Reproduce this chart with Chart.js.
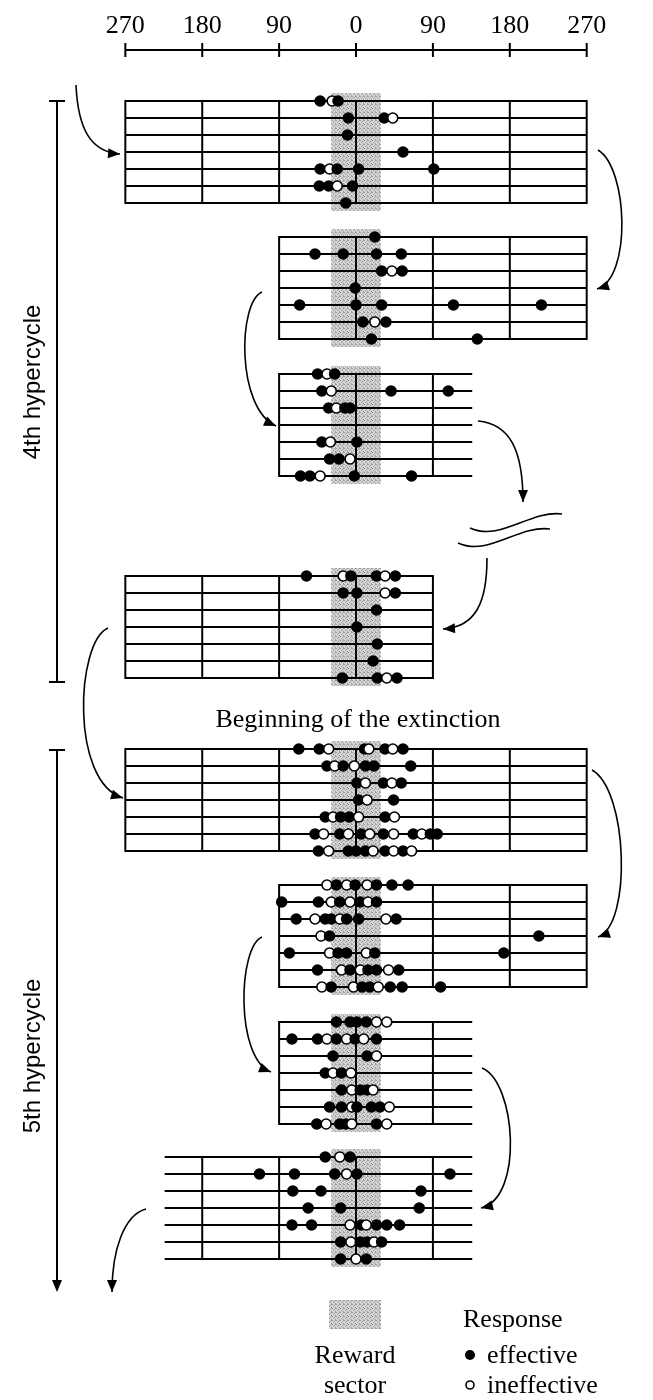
<!DOCTYPE html>
<html>
<head>
<meta charset="utf-8">
<script src="https://cdn.jsdelivr.net/npm/chart.js@4.4.1/dist/chart.umd.min.js"></script>
<style>
    html, body { margin: 0; padding: 0; background: #fff; }
    canvas { display: block; }
</style>
</head>
<body>
<canvas id="hypercycle-chart" width="653" height="1400"></canvas>
<script>
// angle ticks of the top scale (degrees from the reward position)
const tickDegrees = [-270, -180, -90, 0, 90, 180, 270];
const tickLabels = ["270", "180", "90", "0", "90", "180", "270"];
const rewardSector = [-29, 29];

// one array per block of trials; each row is a trial, each entry [degrees, effective ? 1 : 0]
const block1 = [
    [[-42, 1], [-28, 0], [-21, 1]],
    [[-9, 1], [33, 1], [43, 0]],
    [[-10, 1]],
    [[55, 1]],
    [[-42, 1], [-31, 0], [-22, 1], [3, 1], [91, 1]],
    [[-43, 1], [-32, 1], [-22, 0], [-4, 1]],
    [[-12, 1]],
];
const block2 = [
    [[22, 1]],
    [[-48, 1], [-15, 1], [24, 1], [53, 1]],
    [[30, 1], [42, 0], [54, 1]],
    [[-1, 1]],
    [[-66, 1], [0, 1], [30, 1], [114, 1], [217, 1]],
    [[8, 1], [22, 0], [35, 1]],
    [[18, 1], [142, 1]],
];
const block3 = [
    [[-45, 1], [-34, 0], [-25, 1]],
    [[-40, 1], [-29, 0], [41, 1], [108, 1]],
    [[-32, 1], [-23, 0], [-13, 1], [-7, 1]],
    [],
    [[-40, 1], [-30, 0], [1, 1]],
    [[-31, 1], [-20, 1], [-7, 0]],
    [[-65, 1], [-54, 1], [-42, 0], [-2, 1], [65, 1]],
];
const block4 = [
    [[-58, 1], [-15, 0], [-6, 1], [24, 1], [34, 0], [46, 1]],
    [[-15, 1], [1, 1], [34, 0], [46, 1]],
    [[24, 1]],
    [[1, 1]],
    [[25, 1]],
    [[20, 1]],
    [[-16, 1], [25, 1], [36, 0], [48, 1]],
];
const block5 = [
    [[-67, 1], [-43, 1], [-32, 0], [10, 1], [15, 0], [34, 1], [43, 0], [55, 1]],
    [[-34, 1], [-25, 0], [-15, 1], [-2, 0], [11, 1], [21, 1], [64, 1]],
    [[1, 1], [11, 0], [32, 1], [42, 0], [53, 1]],
    [[3, 1], [13, 0], [44, 1]],
    [[-36, 1], [-27, 0], [-18, 1], [-8, 1], [3, 0], [34, 1], [45, 0]],
    [[-48, 1], [-38, 0], [-19, 1], [-9, 0], [6, 1], [16, 0], [32, 1], [44, 0], [67, 1], [77, 0], [87, 1], [95, 1]],
    [[-44, 1], [-32, 0], [-9, 1], [0, 1], [11, 1], [20, 0], [34, 1], [44, 0], [55, 1], [65, 0]],
];
const block6 = [
    [[-34, 0], [-23, 1], [-11, 0], [-1, 1], [13, 0], [24, 1], [42, 1], [61, 1]],
    [[-87, 1], [-44, 1], [-29, 0], [-19, 1], [-7, 0], [5, 1], [14, 0], [24, 1]],
    [[-70, 1], [-48, 0], [-36, 1], [-29, 1], [-19, 0], [-11, 1], [3, 1], [35, 0], [47, 1]],
    [[-41, 0], [-31, 1], [214, 1]],
    [[-78, 1], [-31, 0], [-21, 1], [-11, 1], [12, 0], [22, 1], [173, 1]],
    [[-45, 1], [-17, 0], [-7, 1], [5, 0], [14, 1], [24, 1], [38, 0], [50, 1]],
    [[-40, 0], [-29, 1], [-3, 0], [7, 1], [16, 1], [26, 0], [40, 1], [54, 1], [99, 1]],
];
const block7 = [
    [[-23, 1], [-7, 1], [1, 1], [12, 1], [24, 0], [36, 0]],
    [[-75, 1], [-45, 1], [-34, 0], [-23, 1], [-11, 0], [-1, 1], [9, 0], [24, 1]],
    [[-27, 1], [13, 1], [24, 0]],
    [[-36, 1], [-27, 0], [-17, 1], [-6, 0]],
    [[-17, 1], [-5, 0], [5, 1], [13, 1], [20, 0]],
    [[-31, 1], [-17, 1], [-5, 0], [1, 1], [18, 1], [28, 1], [39, 0]],
    [[-46, 1], [-35, 0], [-19, 1], [-12, 1], [-5, 0], [24, 1], [36, 0]],
];
const block8 = [
    [[-36, 1], [-19, 0], [-7, 1]],
    [[-113, 1], [-72, 1], [-25, 1], [-11, 0], [1, 1], [110, 1]],
    [[-74, 1], [-41, 1], [76, 1]],
    [[-56, 1], [-18, 1], [74, 1]],
    [[-75, 1], [-52, 1], [-7, 0], [6, 1], [12, 0], [24, 1], [36, 1], [51, 1]],
    [[-18, 1], [-6, 0], [5, 1], [13, 1], [21, 0], [30, 1]],
    [[-18, 1], [0, 0], [12, 1]],
];
const blocks = [block1, block2, block3, block4, block5, block6, block7, block8];

// page layout of the blocks (y in canvas units, extents in degrees)
const layout = {
    rowGap: 17,
    top: [101, 237, 374, 576, 749, 885, 1022, 1157],
    from: [-270, -90, -90, -270, -270, -90, -90, -224],
    to: [270, 270, 136, 90, 270, 270, 136, 136],
    leftEdge: [true, true, true, true, true, true, true, false],
    rightEdge: [true, true, false, true, true, true, false, false],
};

const SERIF = "'Liberation Serif', 'Times New Roman', serif";
const SANS = "'Liberation Sans', Arial, sans-serif";

function sectorPattern(ctx) {
    const c = document.createElement("canvas");
    c.width = 4;
    c.height = 4;
    const g = c.getContext("2d");
    g.fillStyle = "#d6d6d6";
    g.fillRect(0, 0, 4, 4);
    g.fillStyle = "#9a9a9a";
    [[0, 0], [2, 1], [1, 2], [3, 3], [3, 0]].forEach(([px, py]) => g.fillRect(px, py, 1, 1));
    return ctx.createPattern(c, "repeat");
}

function arrowHead(ctx, tx, ty, fx, fy) {
    const a = Math.atan2(ty - fy, tx - fx);
    const len = 12;
    const w = 5;
    ctx.beginPath();
    ctx.moveTo(tx, ty);
    ctx.lineTo(tx - len * Math.cos(a) + w * Math.sin(a), ty - len * Math.sin(a) - w * Math.cos(a));
    ctx.lineTo(tx - len * Math.cos(a) - w * Math.sin(a), ty - len * Math.sin(a) + w * Math.cos(a));
    ctx.closePath();
    ctx.fill();
}

function curvedArrow(ctx, p, head = true) {
    ctx.beginPath();
    ctx.moveTo(p[0], p[1]);
    ctx.bezierCurveTo(p[2], p[3], p[4], p[5], p[6], p[7]);
    ctx.stroke();
    if (head) arrowHead(ctx, p[6], p[7], p[4], p[5]);
}

const figurePlugin = {
    id: "figure",
    beforeDatasetsDraw(chart) {
        const ctx = chart.ctx;
        const X = (d) => chart.scales.x.getPixelForValue(d);
        const Y = (v) => chart.scales.y.getPixelForValue(v);
        const pattern = sectorPattern(ctx);
        ctx.save();

        // top angle scale
        ctx.strokeStyle = "#000";
        ctx.fillStyle = "#000";
        ctx.lineWidth = 2;
        ctx.beginPath();
        ctx.moveTo(X(tickDegrees[0]), Y(50));
        ctx.lineTo(X(tickDegrees[tickDegrees.length - 1]), Y(50));
        tickDegrees.forEach((d) => {
            ctx.moveTo(X(d), Y(43));
            ctx.lineTo(X(d), Y(57));
        });
        ctx.stroke();
        ctx.font = `26px ${SERIF}`;
        ctx.textAlign = "center";
        ctx.textBaseline = "alphabetic";
        tickDegrees.forEach((d, i) => ctx.fillText(tickLabels[i], X(d), Y(33)));

        // reward sector bands
        ctx.fillStyle = pattern;
        layout.top.forEach((top) => {
            const y0 = Y(top - 8);
            const y1 = Y(top + 6 * layout.rowGap + 8);
            ctx.fillRect(X(rewardSector[0]), y0, X(rewardSector[1]) - X(rewardSector[0]), y1 - y0);
        });

        // block grids
        ctx.strokeStyle = "#000";
        ctx.lineWidth = 2;
        layout.top.forEach((top, b) => {
            const from = layout.from[b];
            const to = layout.to[b];
            const bottom = top + 6 * layout.rowGap;
            ctx.beginPath();
            for (let r = 0; r < 7; r++) {
                ctx.moveTo(X(from), Y(top + r * layout.rowGap));
                ctx.lineTo(X(to), Y(top + r * layout.rowGap));
            }
            const verticals = [-180, -90, 0, 90, 180].filter((d) => d > from && d < to);
            if (layout.leftEdge[b]) verticals.push(from);
            if (layout.rightEdge[b]) verticals.push(to);
            verticals.forEach((d) => {
                ctx.moveTo(X(d), Y(top) - 1);
                ctx.lineTo(X(d), Y(bottom) + 1);
            });
            ctx.stroke();
        });

        // hypercycle brackets
        ctx.lineWidth = 2;
        ctx.beginPath();
        ctx.moveTo(57, 101); ctx.lineTo(57, 682);
        ctx.moveTo(49, 101); ctx.lineTo(65, 101);
        ctx.moveTo(49, 682); ctx.lineTo(65, 682);
        ctx.moveTo(57, 750); ctx.lineTo(57, 1282);
        ctx.moveTo(49, 750); ctx.lineTo(65, 750);
        ctx.stroke();
        ctx.fillStyle = "#000";
        arrowHead(ctx, 57, 1292, 57, 1270);

        ctx.font = `24px ${SANS}`;
        ctx.textAlign = "center";
        ctx.textBaseline = "middle";
        [["4th hypercycle", 382], ["5th hypercycle", 1056]].forEach(([t, cy]) => {
            ctx.save();
            ctx.translate(33, cy);
            ctx.rotate(-Math.PI / 2);
            ctx.fillText(t, 0, 0);
            ctx.restore();
        });

        // connecting arrows
        ctx.lineWidth = 1.6;
        [
            [76, 85, 78, 128, 90, 152, 120, 154],
            [598, 150, 628, 168, 632, 278, 597, 289],
            [262, 292, 238, 302, 236, 408, 276, 426],
            [478, 421, 510, 424, 523, 450, 523, 502],
            [487, 558, 487, 602, 476, 627, 443, 629],
            [108, 628, 76, 642, 70, 782, 123, 798],
            [592, 770, 628, 790, 632, 925, 598, 937],
            [262, 937, 238, 947, 235, 1058, 271, 1072],
            [482, 1068, 516, 1082, 524, 1198, 481, 1208],
            [146, 1209, 124, 1215, 112, 1250, 112, 1292],
        ].forEach((p) => curvedArrow(ctx, p));

        // break marks
        [
            [470, 528, 500, 542, 530, 510, 562, 514],
            [458, 543, 488, 557, 518, 525, 550, 529],
        ].forEach((p) => curvedArrow(ctx, p, false));

        ctx.font = `26px ${SERIF}`;
        ctx.textAlign = "center";
        ctx.textBaseline = "alphabetic";
        ctx.fillText("Beginning of the extinction", 358, 727);

        // legend
        ctx.fillStyle = pattern;
        ctx.fillRect(329, 1300, 52, 29);
        ctx.fillStyle = "#000";
        ctx.fillText("Reward", 355, 1363);
        ctx.fillText("sector", 355, 1393);
        ctx.textAlign = "left";
        ctx.fillText("Response", 463, 1327);
        ctx.fillText("effective", 487, 1363);
        ctx.fillText("ineffective", 487, 1393);
        ctx.beginPath();
        ctx.arc(470, 1355, 5, 0, Math.PI * 2);
        ctx.fill();
        ctx.beginPath();
        ctx.lineWidth = 1.6;
        ctx.arc(470, 1385, 4, 0, Math.PI * 2);
        ctx.stroke();

        ctx.restore();
    },
};

const datasets = blocks.map((rows, b) => {
    const data = [];
    const fills = [];
    rows.forEach((trial, r) => {
        trial.forEach(([deg, effective]) => {
            data.push({ x: deg, y: layout.top[b] + r * layout.rowGap });
            fills.push(effective ? "#000" : "#fff");
        });
    });
    return {
        data,
        pointBackgroundColor: fills,
        pointBorderColor: "#000",
        pointBorderWidth: 1.6,
        pointRadius: 5,
        pointHoverRadius: 5,
        showLine: false,
    };
});

new Chart(document.getElementById("hypercycle-chart"), {
    type: "scatter",
    data: { datasets },
    options: {
        responsive: false,
        animation: false,
        devicePixelRatio: 1,
        events: [],
        layout: { padding: 0, autoPadding: false },
        plugins: {
            legend: { display: false },
            tooltip: { enabled: false },
        },
        scales: {
            x: { type: "linear", min: -416.7, max: 347.6, display: false },
            y: { type: "linear", min: 0, max: 1400, reverse: true, display: false },
        },
    },
    plugins: [figurePlugin],
});
</script>
</body>
</html>
